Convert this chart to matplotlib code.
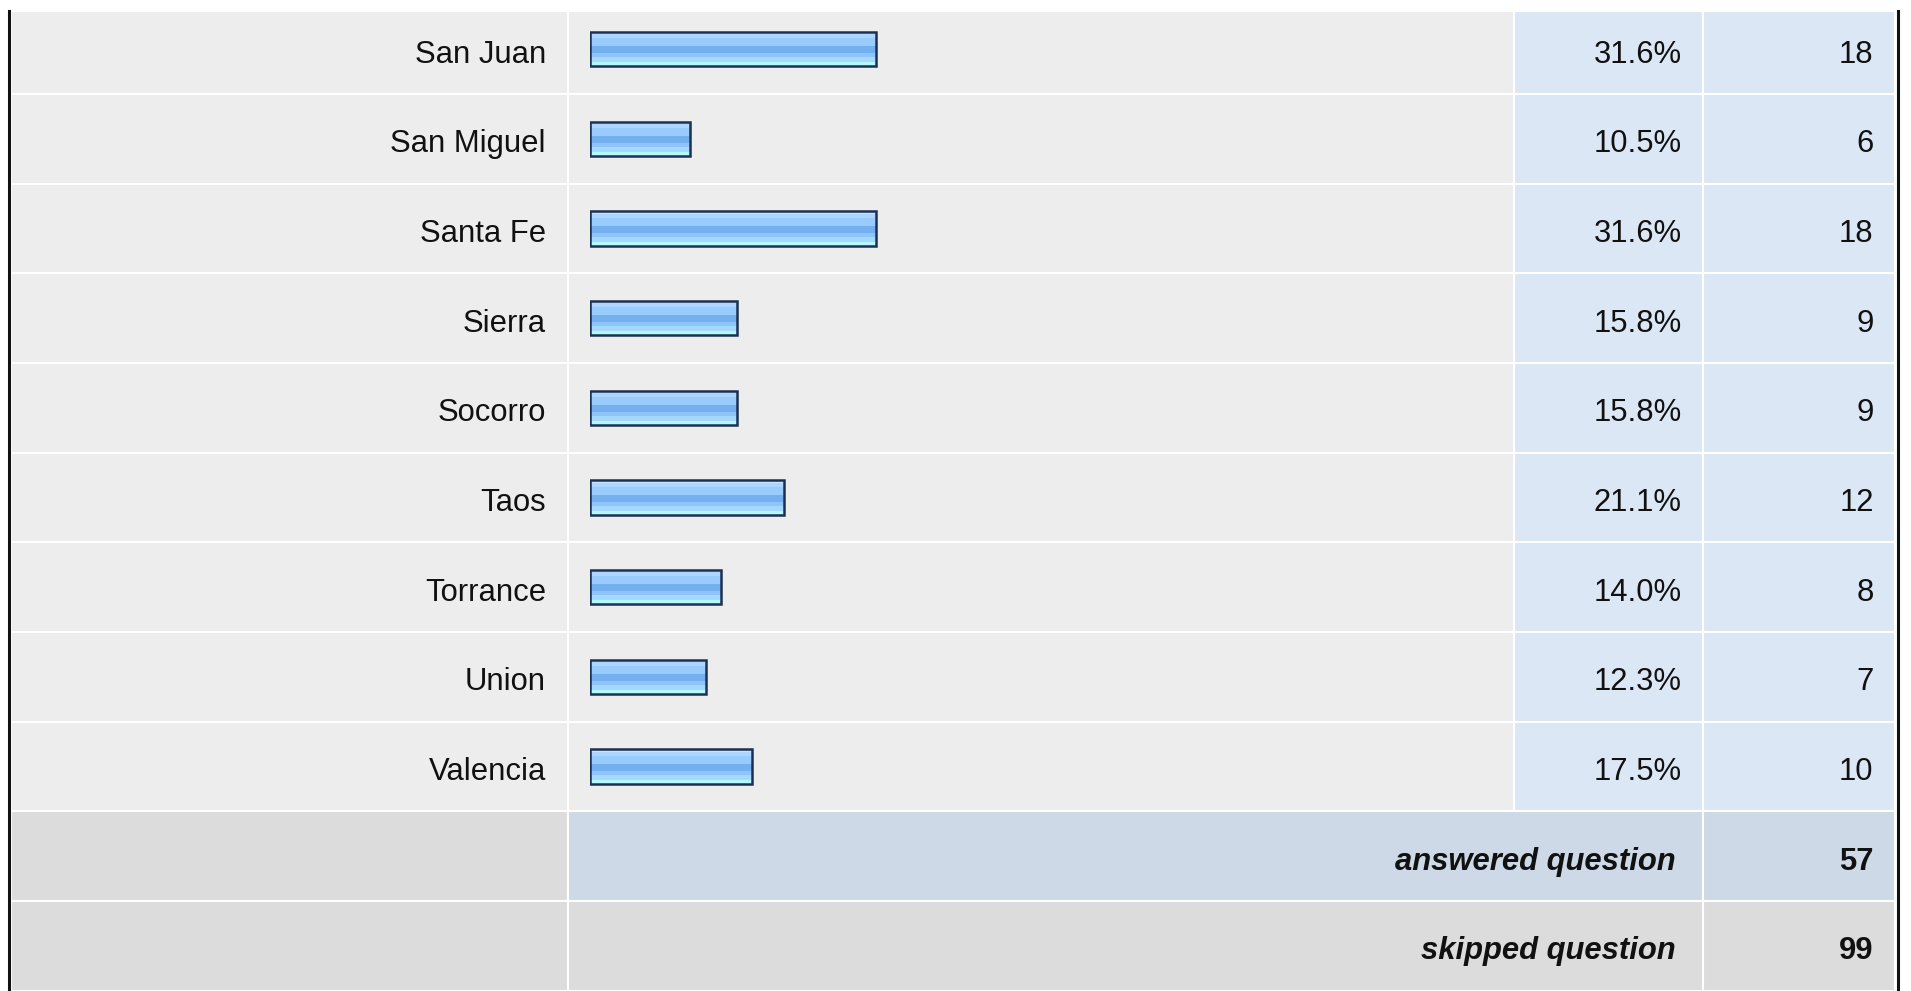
import matplotlib
matplotlib.use("Agg")
import numpy as np
import matplotlib.pyplot as plt
from matplotlib.patches import Rectangle
from matplotlib.colors import to_rgb

# survey table data
regions = ["San Juan", "San Miguel", "Santa Fe", "Sierra", "Socorro",
           "Taos", "Torrance", "Union", "Valencia"]
percents = [31.6, 10.5, 31.6, 15.8, 15.8, 21.1, 14.0, 12.3, 17.5]
counts = [18, 6, 18, 9, 9, 12, 8, 7, 10]
summary_labels = ["answered question", "skipped question"]
summary_values = [57, 99]

W, H = 1911, 991
plt.rcParams['font.family'] = ['Liberation Sans', 'DejaVu Sans']
FS = 22.3
TXT = '#111111'

fig = plt.figure(figsize=(W / 100, H / 100), dpi=100)
ax = fig.add_axes([0, 0, 1, 1])

col_x = [11, 568, 1514, 1703, 1895]
pitch = 89.67
first_sep = 94
table_top = 11
n = len(regions)


def row_span(k):
    top = first_sep + pitch * (k - 1)
    return top, top + pitch


def cell(x0, x1, y0, y1, color):
    y0 = max(y0, table_top)
    y1 = min(y1, H + 5)
    ax.add_patch(Rectangle((x0, y0), x1 - x0, y1 - y0, facecolor=color,
                           edgecolor='white', linewidth=1.5, zorder=1))


centers = []
for k in range(n):
    top, bot = row_span(k)
    centers.append(top + pitch / 2)
    cell(col_x[0], col_x[1], top, bot, '#ededed')
    cell(col_x[1], col_x[2], top, bot, '#ededed')
    cell(col_x[2], col_x[3], top, bot, '#dce7f5')
    cell(col_x[3], col_x[4], top, bot, '#dce7f5')
    base = top + pitch / 2 + 13.6
    ax.text(546, base, regions[k], ha='right', va='baseline', fontsize=FS, color=TXT)
    ax.text(1681.5, base, f"{percents[k]:.1f}%", ha='right', va='baseline', fontsize=FS, color=TXT)
    ax.text(1873.5, base, str(counts[k]), ha='right', va='baseline', fontsize=FS, color=TXT)

summary_colors = [('#dcdcdc', '#cdd9e6'), ('#dcdcdc', '#dcdcdc')]
for i, (lab, val) in enumerate(zip(summary_labels, summary_values)):
    top, bot = row_span(n + i)
    c_left, c_rest = summary_colors[i]
    cell(col_x[0], col_x[1], top, bot, c_left)
    cell(col_x[1], col_x[3], top, bot, c_rest)
    cell(col_x[3], col_x[4], top, bot, c_rest)
    base = top + pitch / 2 + 13.6
    ax.text(1676, base, lab, ha='right', va='baseline', fontsize=FS,
            fontweight='bold', fontstyle='italic', color=TXT)
    ax.text(1873.5, base, str(val), ha='right', va='baseline', fontsize=FS,
            fontweight='bold', color=TXT)

# outer black borders
ax.plot([9.3, 9.3], [table_top, H], color='#111111', lw=2.2, zorder=5)
ax.plot([1897.5, 1897.5], [table_top, H], color='#111111', lw=2.2, zorder=5)

ax.set_xlim(0, W)
ax.set_ylim(H, 0)
ax.axis('off')

# bar column, own axes in percent units
stub = 0.8
bx0, bx1 = 590.0, 1481.0
ax2 = fig.add_axes([bx0 / W, 0, (bx1 - bx0) / W, 1])
ax2.patch.set_visible(False)
stripes = (['#c5e3ff'] * 3 + ['#acd6ff'] * 3 + ['#99cbfc'] * 8 + ['#74aff0'] * 6
           + ['#8ec4f8'] * 4 + ['#a4d8fd'] * 4 + ['#b2f8ff'] * 4)
grad = np.array([to_rgb(c) for c in stripes]).reshape(-1, 1, 3)

bars = ax2.barh(centers, [p + stub for p in percents], left=-stub, height=34.3,
                facecolor='none', edgecolor='#1c3050', linewidth=1.8, zorder=3)
for b in bars:
    x0, y0 = b.get_x(), b.get_y()
    w, h = b.get_width(), b.get_height()
    im = ax2.imshow(grad, extent=(x0, x0 + w, y0 + h, y0), aspect='auto',
                    interpolation='nearest', zorder=2)
    im.set_clip_path(b)

ax2.set_xlim(-stub, 100)
ax2.set_ylim(H, 0)
ax2.axis('off')

fig.savefig('out.png', dpi=100)
